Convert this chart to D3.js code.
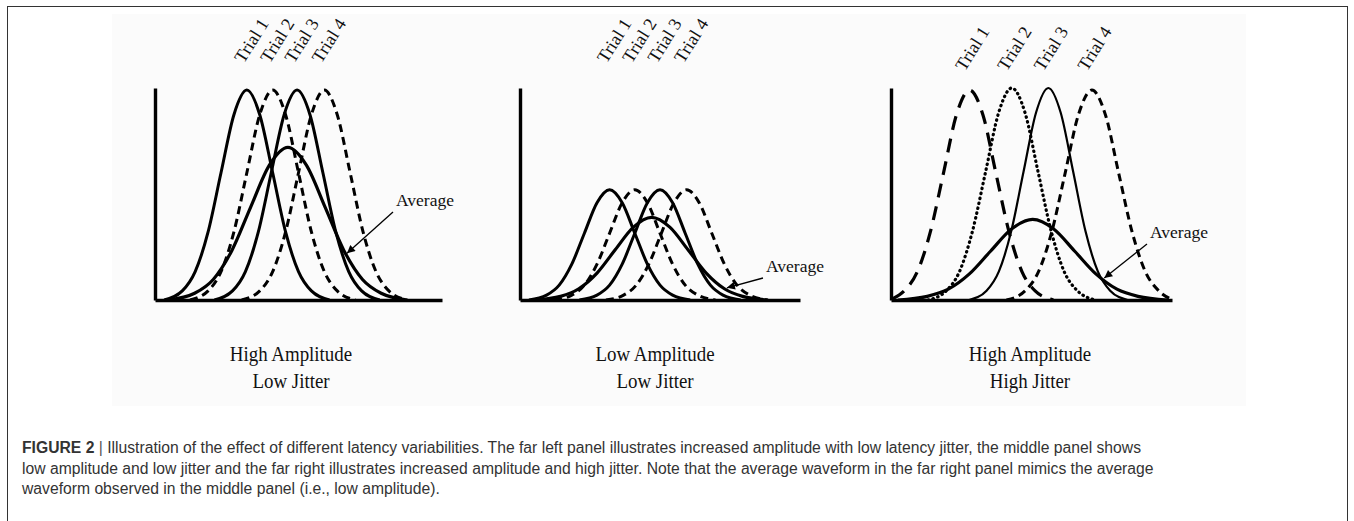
<!DOCTYPE html>
<html><head><meta charset="utf-8">
<script src="https://cdn.jsdelivr.net/npm/d3@7"></script>
<style>body{margin:0;background:#fff;}</style>
</head><body>
<svg id="chart" width="1354" height="521"></svg>
<script>
// ---------------- DATA ----------------
const trialLabels = ["Trial 1", "Trial 2", "Trial 3", "Trial 4"];
const averageLabel = "Average";
const panelTitles = [
  ["High Amplitude", "Low Jitter"],
  ["Low Amplitude", "Low Jitter"],
  ["High Amplitude", "High Jitter"]
];
const captionBold = "FIGURE 2";
const captionLines = [
  "Illustration of the effect of different latency variabilities. The far left panel illustrates increased amplitude with low latency jitter, the middle panel shows",
  "low amplitude and low jitter and the far right illustrates increased amplitude and high jitter. Note that the average waveform in the far right panel mimics the average",
  "waveform observed in the middle panel (i.e., low amplitude)."
];

// left panel: high amplitude, low jitter  (x: latency 0-100, y: amplitude 0-100)
const leftTrial1 = [[3.2,0],[9.5,4.3],[14,13.4],[18.5,32.1],[23,60],[27.5,87.4],[32,99],[36.5,87.4],[41,60],[45.5,32.1],[50,13.4],[54.5,4.3],[60.8,0]];
const leftTrial2 = [[12.2,0],[18.5,4.3],[23,13.4],[27.5,32.1],[32,60],[36.5,87.4],[41,99],[45.5,87.4],[50,60],[54.5,32.1],[59,13.4],[63.5,4.3],[69.8,0]];
const leftTrial3 = [[20.7,0],[27,4.3],[31.5,13.4],[36,32.1],[40.5,60],[45,87.4],[49.5,99],[54,87.4],[58.5,60],[63,32.1],[67.5,13.4],[72,4.3],[78.3,0]];
const leftTrial4 = [[30.2,0],[36.5,4.3],[41,13.4],[45.5,32.1],[50,60],[54.5,87.4],[59,99],[63.5,87.4],[68,60],[72.5,32.1],[77,13.4],[81.5,4.3],[87.8,0]];
const leftAverage = [[4.7,0],[13.8,3.2],[20.3,9.7],[26.8,23.4],[33.3,43.7],[39.8,63.5],[46.3,72],[52.8,63.5],[59.3,43.7],[65.8,23.4],[72.3,9.7],[78.8,3.2],[87.9,0]];

// middle panel: low amplitude, low jitter
const midTrial1 = [[3.2,0],[9.5,2.3],[14,7.0],[18.5,16.9],[23,31.5],[27.5,45.9],[32,52],[36.5,45.9],[41,31.5],[45.5,16.9],[50,7.0],[54.5,2.3],[60.8,0]];
const midTrial2 = [[12.2,0],[18.5,2.3],[23,7.0],[27.5,16.9],[32,31.5],[36.5,45.9],[41,52],[45.5,45.9],[50,31.5],[54.5,16.9],[59,7.0],[63.5,2.3],[69.8,0]];
const midTrial3 = [[21.2,0],[27.5,2.3],[32,7.0],[36.5,16.9],[41,31.5],[45.5,45.9],[50,52],[54.5,45.9],[59,31.5],[63.5,16.9],[68,7.0],[72.5,2.3],[78.8,0]];
const midTrial4 = [[30.7,0],[37,2.3],[41.5,7.0],[46,16.9],[50.5,31.5],[55,45.9],[59.5,52],[64,45.9],[68.5,31.5],[73,16.9],[77.5,7.0],[82,2.3],[88.3,0]];
const midAverage = [[5.4,0],[14.5,1.7],[21,5.3],[27.5,12.7],[34,23.7],[40.5,34.4],[47,39],[53.5,34.4],[60,23.7],[66.5,12.7],[73,5.3],[79.5,1.7],[88.6,0]];

// right panel: high amplitude, high jitter
const rightTrial1 = [[0.5,0.5],[4.7,4.3],[9.4,13.4],[14,32.1],[18.7,60],[23.3,87.4],[28,99],[32.7,87.4],[37.3,60],[42,32.1],[46.6,13.4],[51.3,4.3],[57.8,0]];
const rightTrial2 = [[13.2,0],[19.7,4.4],[24.4,13.5],[29,32.5],[33.7,60.7],[38.3,88.3],[43,100],[47.7,88.3],[52.3,60.7],[57,32.5],[61.6,13.5],[66.3,4.4],[72.8,0]];
const rightTrial3 = [[27.8,0],[34,4.4],[38.4,13.5],[42.8,32.5],[47.2,60.7],[51.6,88.3],[56,100],[60.4,88.3],[64.8,60.7],[69.2,32.5],[73.6,13.5],[78,4.4],[84.2,0]];
const rightTrial4 = [[41.1,0],[47.7,4.3],[52.5,13.4],[57.2,32.1],[62,60],[66.7,87.4],[71.5,99],[76.3,87.4],[81,60],[85.8,32.1],[90.5,13.4],[95.3,4.3],[100.5,0]];
const rightAverage = [[2.4,0],[12.9,1.7],[20.4,5.1],[27.9,12.3],[35.4,23],[42.9,33.5],[50.4,38],[57.9,33.5],[65.4,23],[72.9,12.3],[80.4,5.1],[87.9,1.7],[98.4,0]];

// x-position (latency) at which each "Average" arrow touches the average curve
const arrowTargetX = [66.9, 73.9, 75.9];

// ---------------- LAYOUT / STYLE ----------------
const svg = d3.select("#chart");
const baseY = 300, topY = 88;
const serif = "'Liberation Serif','Times New Roman',serif";
const sans = "'Liberation Sans',Arial,Helvetica,sans-serif";

const styles = {
  solid:   {w: 3, dash: null, cap: "butt"},
  dashed:  {w: 3, dash: "8,5", cap: "butt"},
  longdash:{w: 3.2, dash: "14,9", cap: "butt"},
  dotted:  {w: 3.2, dash: "0.5,4.5", cap: "round"},
  thin:    {w: 2.2, dash: null, cap: "butt"},
  avg:     {w: 3.2, dash: null, cap: "butt"}
};

const panels = [
  {x0: 155, x1: 442, trials: [leftTrial1, leftTrial2, leftTrial3, leftTrial4], avg: leftAverage,
   trialStyles: ["solid","dashed","solid","dashed"], labelY: 64, labelAngle: -58, labelDx: -3,
   avgText: [396, 206], titleX: 291},
  {x0: 520, x1: 800, trials: [midTrial1, midTrial2, midTrial3, midTrial4], avg: midAverage,
   trialStyles: ["solid","dashed","solid","dashed"], labelY: 64, labelAngle: -58, labelDx: -3,
   avgText: [766, 272], titleX: 655},
  {x0: 891, x1: 1172, trials: [rightTrial1, rightTrial2, rightTrial3, rightTrial4], avg: rightAverage,
   trialStyles: ["longdash","dotted","thin","dashed"], labelY: 72, labelAngle: -58, labelDx: -5,
   avgText: [1150, 238], titleX: 1030}
];

// faint figure background and outer frame
svg.append("rect").attr("x", 112).attr("y", 14).attr("width", 1134).attr("height", 392).attr("fill", "#fbfbfb");
svg.append("rect").attr("x", 7.5).attr("y", 6.5).attr("width", 1340).attr("height", 600)
  .attr("fill", "none").attr("stroke", "#333").attr("stroke-width", 1);

const defs = svg.append("defs");
defs.append("marker").attr("id", "arrowhead").attr("viewBox", "0 0 10 10")
  .attr("refX", 10).attr("refY", 5).attr("markerWidth", 11).attr("markerHeight", 8)
  .attr("markerUnits", "userSpaceOnUse").attr("orient", "auto")
  .append("path").attr("d", "M0,0 L10,5 L0,10 Z").attr("fill", "#000");

function curveYAt(data, xv) {
  const i = d3.bisector(d => d[0]).left(data, xv);
  if (i <= 0) return data[0][1];
  if (i >= data.length) return data[data.length - 1][1];
  const a = data[i - 1], b = data[i];
  return a[1] + (b[1] - a[1]) * (xv - a[0]) / (b[0] - a[0]);
}

panels.forEach((p, pi) => {
  const g = svg.append("g");
  const x = d3.scaleLinear().domain([0, 100]).range([p.x0, p.x1]);
  const y = d3.scaleLinear().domain([0, 100]).range([baseY, topY]);
  const line = d3.line().x(d => x(d[0])).y(d => y(d[1])).curve(d3.curveMonotoneX);

  // axes (plain L-shaped axes without ticks)
  const xAxis = d3.axisBottom(x).tickValues([]).tickSizeOuter(0);
  const yAxis = d3.axisLeft(y).tickValues([]).tickSizeOuter(0);
  const ga = g.append("g");
  ga.append("g").attr("transform", `translate(0,${baseY})`).call(xAxis)
    .select(".domain").attr("stroke", "#000").attr("stroke-width", 3.4);
  ga.append("g").attr("transform", `translate(${p.x0},0)`).call(yAxis)
    .select(".domain").attr("stroke", "#000").attr("stroke-width", 3.4);

  // trial curves
  p.trials.forEach((t, i) => {
    const s = styles[p.trialStyles[i]];
    g.append("path").datum(t).attr("d", line).attr("fill", "none")
      .attr("stroke", "#000").attr("stroke-width", s.w)
      .attr("stroke-dasharray", s.dash).attr("stroke-linecap", s.cap);
  });
  // average curve
  g.append("path").datum(p.avg).attr("d", line).attr("fill", "none")
    .attr("stroke", "#000").attr("stroke-width", styles.avg.w);

  // trial labels, rotated, anchored above each trial's peak
  p.trials.forEach((t, i) => {
    const peak = d3.greatest(t, d => d[1]);
    const lx = x(peak[0]) + p.labelDx;
    g.append("text").attr("transform", `translate(${lx},${p.labelY}) rotate(${p.labelAngle})`)
      .attr("font-family", serif).attr("font-size", 18).attr("fill", "#111")
      .text(trialLabels[i]);
  });

  // Average annotation with arrow to the average curve
  g.append("text").attr("x", p.avgText[0]).attr("y", p.avgText[1])
    .attr("font-family", serif).attr("font-size", 17.5).attr("fill", "#111").text(averageLabel);
  const tx = arrowTargetX[pi];
  const tipX = x(tx), tipY = y(curveYAt(p.avg, tx)) - 2;
  g.append("line").attr("x1", p.avgText[0] - 3).attr("y1", p.avgText[1] + 6)
    .attr("x2", tipX).attr("y2", tipY)
    .attr("stroke", "#000").attr("stroke-width", 1.3).attr("marker-end", "url(#arrowhead)");

  // panel titles (slightly condensed serif, as in the figure)
  panelTitles[pi].forEach((txt, k) => {
    const t = g.append("text").attr("x", p.titleX).attr("y", 361 + k * 27)
      .attr("text-anchor", "middle").attr("font-family", serif).attr("font-size", 21)
      .attr("fill", "#111").text(txt);
    const L = t.node().getComputedTextLength();
    t.attr("textLength", L * 0.9).attr("lengthAdjust", "spacingAndGlyphs");
  });
});

// caption: same horizontal condensation for every line, fitted to line 1's width
const capTexts = captionLines.map((ln, i) => {
  const t = svg.append("text").attr("x", 22).attr("y", 453 + i * 20.5)
    .attr("font-family", sans).attr("font-size", 16).attr("fill", "#333");
  if (i === 0) {
    t.append("tspan").attr("font-weight", "bold").text(captionBold);
    t.append("tspan").attr("fill", "#555").text(" | ");
    t.append("tspan").text(ln);
  } else {
    t.text(ln);
  }
  return t;
});
const factor = 1119 / capTexts[0].node().getComputedTextLength();
capTexts.forEach(t => {
  const L = t.node().getComputedTextLength();
  t.attr("textLength", L * factor).attr("lengthAdjust", "spacingAndGlyphs");
});
</script>
</body></html>
